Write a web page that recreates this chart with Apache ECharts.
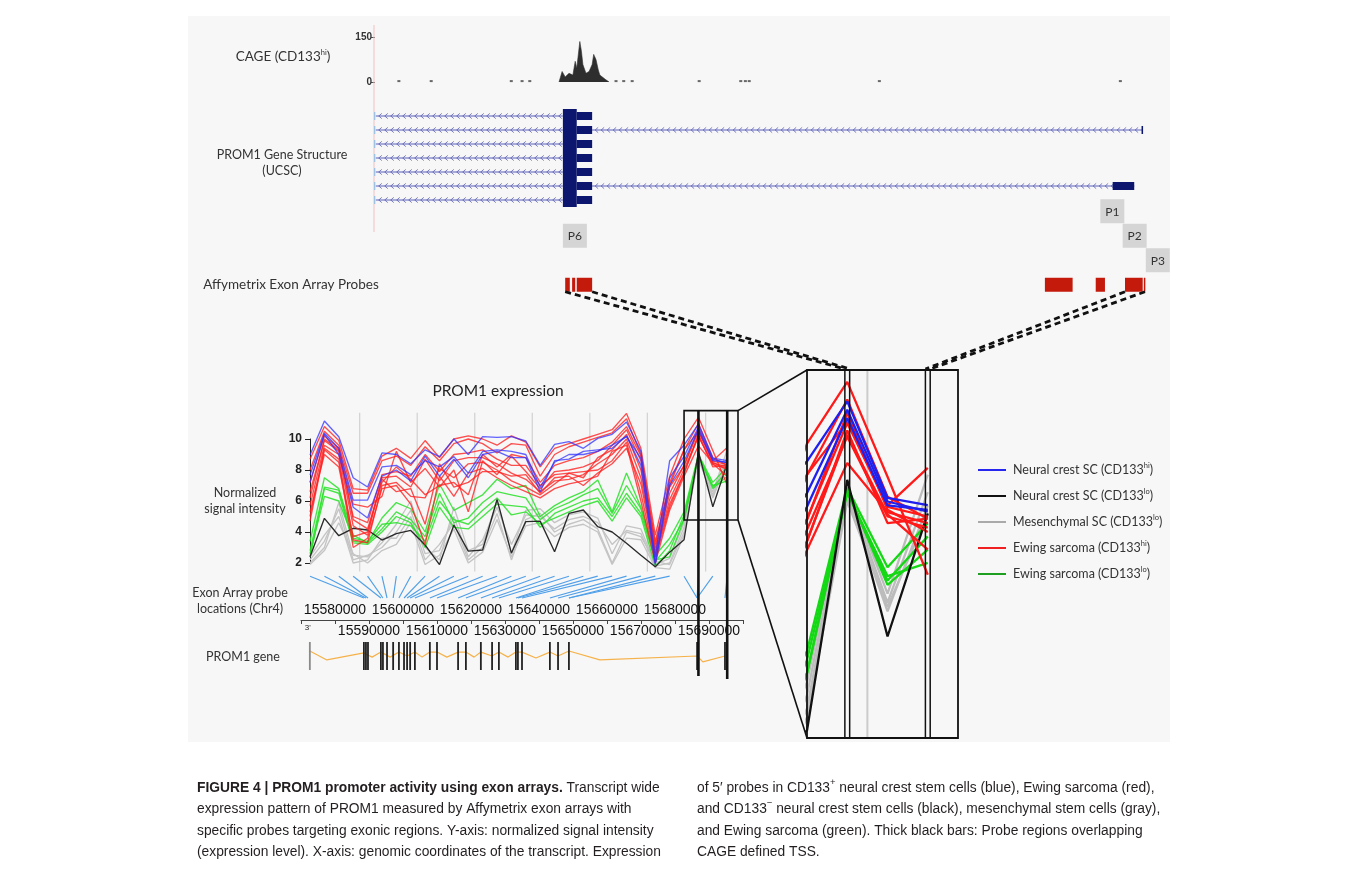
<!DOCTYPE html>
<html>
<head>
<meta charset="utf-8">
<title>PROM1 promoter activity using exon arrays</title>
<script src="https://cdn.jsdelivr.net/npm/echarts@6/dist/echarts.min.js"></script>
<style>
html,body{margin:0;padding:0;background:#ffffff;}
#chart{width:1355px;height:883px;}
</style>
</head>
<body>
<div id="chart"></div>
<script>
// ======================= DATA =======================
// Exon-array probes along PROM1 (3' -> 5')
const probeIndex = [0,1,2,3,4,5,6,7,8,9,10,11,12,13,14,15,16,17,18,19,20,21,22,23,24,25,26,27,28,29];

// Neural crest SC (CD133hi) - blue
const neuralCrestHi1 = [8.97,11.16,10.15,7.5,6.9,9.1,9.0,8.4,9.3,8.86,10.0,9.0,10.15,10.1,10.15,9.87,8.3,9.65,9.83,9.4,10.04,10.3,11.1,9.2,2.4,8.6,9.6,10.96,8.77,8.61];
const neuralCrestHi2 = [7.68,10.37,9.4,6.06,6.06,8.2,8.3,7.7,8.6,8.2,8.86,7.8,9.2,9.3,9.2,9.0,6.9,8.5,9.0,9.0,9.2,9.6,10.15,8.75,2.0,7.5,8.88,10.77,8.69,8.46];
const neuralCrestHi3 = [7.2,10.3,9.0,5.6,4.9,7.6,8.0,7.3,8.9,7.6,8.7,7.5,9.0,9.2,8.8,8.8,6.6,8.6,8.7,9.2,9.3,9.4,10.2,8.3,1.9,7.0,8.57,10.58,8.6,8.5];
// Neural crest SC (CD133lo) - black
const neuralCrestLo1 = [2.4,4.88,3.76,4.24,4.13,3.48,3.9,4.1,3.16,1.9,4.45,2.77,2.84,6.1,2.64,4.67,4.7,2.73,5.2,5.42,4.34,4.0,3.27,2.5,1.76,2.7,3.5,9.18,5.63,8.42];
// Mesenchymal SC (CD133lo) - gray
const mesenchymalLo1 = [2.0,3.0,5.9,2.5,2.4,3.3,4.5,6.0,3.0,2.2,5.6,2.8,3.2,6.0,2.6,5.4,5.5,4.6,5.1,5.3,4.9,2.6,4.4,4.2,1.9,2.3,4.6,9.0,6.6,9.3];
const mesenchymalLo2 = [2.2,3.4,5.5,2.2,2.5,3.0,4.0,5.4,2.6,2.8,5.0,2.4,3.5,5.6,3.2,5.1,5.0,4.2,4.8,5.0,4.6,3.2,4.1,3.9,1.8,2.0,4.3,8.9,6.4,8.9];
const mesenchymalLo3 = [2.4,3.8,5.0,2.0,2.2,3.6,3.6,5.0,2.2,3.2,4.6,2.2,3.0,5.2,2.2,4.8,5.2,4.0,4.5,4.8,4.2,2.0,4.0,3.7,2.1,1.9,4.0,8.8,6.2,8.6];
const mesenchymalLo4 = [1.9,2.8,4.6,2.6,2.0,2.8,3.2,4.6,1.9,2.5,4.2,2.0,2.7,4.8,2.4,4.4,4.6,3.7,4.3,4.5,4.0,1.9,3.6,3.5,1.7,1.6,3.8,8.7,6.3,8.4];
// Ewing sarcoma (CD133hi) - red
const ewingHi1 = [8.7,10.8,9.9,6.8,6.7,8.9,9.4,8.75,9.9,8.8,10.0,10.2,10.0,9.6,10.2,9.8,8.2,9.4,9.7,10.0,10.3,10.6,11.65,9.4,3.8,7.6,10.0,11.4,9.25,7.03];
const ewingHi2 = [8.0,10.5,9.6,6.5,6.5,8.6,8.9,8.3,9.5,8.6,9.7,10.0,9.7,9.1,9.7,9.6,7.6,9.0,9.5,9.8,10.1,10.4,11.3,9.0,3.2,7.2,9.3,10.5,8.6,9.45];
const ewingHi3 = [6.6,9.9,9.2,5.0,4.6,7.7,7.9,7.6,9.0,7.9,9.0,9.1,9.3,8.7,8.3,8.3,7.0,7.7,7.8,7.5,8.8,9.3,10.3,8.0,2.8,6.5,8.3,10.47,8.57,8.35];
const ewingHi4 = [5.7,9.6,9.0,4.4,3.8,7.5,7.6,6.9,8.7,7.3,8.6,8.8,8.8,8.4,7.8,7.4,6.6,7.3,7.4,7.7,8.4,9.0,10.0,7.5,2.6,6.1,8.05,10.16,8.35,8.1];
const ewingHi5 = [5.0,9.4,8.7,3.5,3.3,7.0,7.2,6.3,6.2,8.1,7.5,8.4,8.5,8.0,7.3,6.9,6.4,7.1,7.8,7.9,8.0,8.6,9.8,6.5,2.3,5.6,7.78,10.3,8.2,8.3];
const ewingHi6 = [4.7,9.3,8.5,3.0,3.6,6.8,7.0,5.8,3.2,7.6,6.3,7.8,8.1,7.5,7.0,6.6,6.2,6.8,7.1,7.3,7.6,9.2,9.6,6.0,2.0,5.4,7.59,9.56,8.45,8.2];
const ewingHi7 = [6.2,10.0,9.3,5.8,5.6,6.3,9.2,7.2,8.1,6.9,8.0,5.3,8.6,7.7,8.9,7.9,6.8,7.9,8.0,8.2,8.6,9.6,10.6,8.6,3.0,6.9,8.27,10.7,8.5,8.0];
const ewingHi8 = [7.2,10.2,9.4,4.8,4.2,7.2,8.2,7.4,6.4,7.0,7.2,6.4,9.0,8.2,9.0,8.8,7.2,8.3,8.6,8.8,9.2,9.8,10.8,8.9,3.4,7.0,9.29,11.0,8.8,8.3];
const ewingHi9 = [5.3,9.0,8.2,3.7,4.0,7.4,6.6,6.8,4.5,8.4,6.9,7.2,7.9,7.9,7.6,7.7,6.5,7.5,7.6,7.0,7.8,8.4,9.4,7.1,2.5,5.8,7.8,10.2,8.4,7.6];
// Ewing sarcoma (CD133lo) - green
const ewingLo1 = [3.4,7.5,6.8,3.8,3.3,4.9,5.9,5.5,4.0,7.1,5.4,5.9,6.4,7.4,6.8,7.0,5.0,5.7,6.2,6.6,7.35,5.3,7.8,5.6,2.5,3.6,5.3,9.0,7.2,8.2];
const ewingLo2 = [2.8,6.9,6.7,3.4,3.3,4.2,5.3,4.8,3.7,6.5,4.6,4.9,5.9,6.6,6.4,6.2,4.8,5.5,5.9,6.4,6.8,5.2,7.0,5.5,2.1,3.2,4.8,8.95,6.8,7.6];
const ewingLo3 = [2.4,6.8,6.5,3.3,3.2,4.0,5.0,4.6,3.0,5.6,4.3,4.2,5.0,5.8,5.7,5.6,4.3,5.2,5.6,6.0,6.2,5.0,6.5,5.2,2.2,2.4,4.8,8.9,7.0,7.3];
const ewingLo4 = [2.6,6.3,6.0,3.6,3.4,4.5,4.6,4.4,3.4,6.0,4.8,4.5,5.4,6.2,5.1,5.3,4.5,4.9,5.3,5.7,6.0,4.7,6.2,5.0,1.8,2.8,5.1,8.9,6.9,7.9];

// legend labels
const legendNames = ['Neural crest SC (CD133hi)','Neural crest SC (CD133lo)','Mesenchymal SC (CD133lo)','Ewing sarcoma (CD133hi)','Ewing sarcoma (CD133lo)'];
const legendBase  = ['Neural crest SC (CD133','Neural crest SC (CD133','Mesenchymal SC (CD133','Ewing sarcoma (CD133','Ewing sarcoma (CD133'];
const legendSup   = ['hi','lo','lo','hi','lo'];

// y ticks of expression plot
const exprTicks = [2,4,6,8,10];
// probes whose regions overlap the CAGE-defined TSS (thick bars)
const tssProbes = [27, 29];
// zoomed window (probe range / signal range)
const zoomProbeRange = [26, 29.75];
const zoomSignalRange = [4.77, 11.83];
const panelSignalRange = [3.33, 11.67];
// light vertical guide lines (probe units)
const guideProbePos = [3.45, 7.45, 11.45, 15.45, 19.45, 23.45, 27.5];

// genomic coordinates (chr4) of PROM1 exons
const exonGenomic = [15572600,15588500,15589100,15589700,15593500,15594100,15595300,15597100,15598800,15600300,15601200,15602100,15603500,15607900,15610000,15616200,15618500,15622900,15626200,15628200,15633200,15633800,15635000,15643200,15645600,15648800,15686500,15694700];
// genomic location of each probe
const probeGenomic = [15588500,15589100,15589700,15593500,15594100,15595300,15597100,15598800,15600300,15601200,15602100,15603500,15607900,15610000,15616200,15618500,15622900,15626200,15628200,15633200,15633800,15635000,15643200,15645600,15648800,15648800,15686500,15686500,15686500,15694700];
// intron connector (genomic, relative height)
const geneLineGenomic = [15572600,15577600,15588500,15590900,15593500,15596200,15598800,15601200,15603500,15605600,15607900,15610000,15612900,15616200,15618500,15620900,15622900,15626200,15628200,15630900,15633200,15635000,15639100,15643200,15645600,15648800,15657900,15686500,15688200,15694700];
const geneLineLevel   = [0.68,0.36,0.61,0.46,0.64,0.46,0.64,0.5,0.64,0.46,0.64,0.64,0.46,0.64,0.64,0.46,0.64,0.5,0.64,0.46,0.64,0.64,0.43,0.64,0.5,0.68,0.36,0.5,0.29,0.5];

// UCSC browser window (kb from window start)
const cagePos    = [2.39,2.43,2.47,2.52,2.57,2.60,2.62,2.66,2.68,2.70,2.74,2.78,2.82,2.84,2.87,2.90,2.92,2.99,3.04];
const cageSignal = [0,35,17,29,23,69,46,135,104,58,29,35,58,92,75,40,23,9,0];
const cageDotPos = [0.31,0.73,1.77,1.91,2.01,3.13,3.23,3.34,4.21,4.75,4.81,4.86,6.55,9.68];
const cageDotSignal = [3,3,3,3,3,3,3,3,3,3,3,3,3,3];
const cageTicks = [0,150];

const txRows       = [0,1,2,3,4,5,6];
const txStart      = 0.01;
const txEnd        = [2.82,9.97,2.82,2.82,2.82,9.86,2.82];
const txCdsExon    = [2.44,2.62];
const txUtrExon    = [2.62,2.82];
const txDistalExon = [null,[9.955,9.975],null,null,null,[9.58,9.86],null];

const probeBlockStart = [2.47,2.56,2.62,8.70,9.36,9.74,9.985];
const probeBlockEnd   = [2.53,2.60,2.82,9.06,9.48,9.97,10.0];
const promoterNames = ['P6','P1','P2','P3'];
const promoterPos   = [2.44,9.42,9.71,10.01];
const promoterRow   = [1,0,1,2];

// ======================= CHART =======================
const FIG = 'Lato, "Open Sans", "DejaVu Sans", sans-serif';
const NUM = '"Liberation Sans", Arial, sans-serif';
const CAP = '"Liberation Sans", Arial, sans-serif';

const chart = echarts.init(document.getElementById('chart'), null, {width:1355, height:883});

const groups = [
  {name: legendNames[2], lines:[mesenchymalLo1,mesenchymalLo2,mesenchymalLo3,mesenchymalLo4], color:'#c4c4c4', op:1, panel:'#bcbcbc'},
  {name: legendNames[4], lines:[ewingLo1,ewingLo2,ewingLo3,ewingLo4], color:'#28e028', op:0.85, panel:'#14d814'},
  {name: legendNames[1], lines:[neuralCrestLo1], color:'#2a2a2a', op:1, panel:'#111111'},
  {name: legendNames[3], lines:[ewingHi1,ewingHi2,ewingHi3,ewingHi4,ewingHi5,ewingHi6,ewingHi7,ewingHi8,ewingHi9], color:'#ff2222', op:0.8, panel:'#ff1a1a'},
  {name: legendNames[0], lines:[neuralCrestHi1,neuralCrestHi2,neuralCrestHi3], color:'#3030ff', op:0.75, panel:'#2020ee'}
];
const legendColors = ['#2626ee','#111111','#aaaaaa','#f02020','#1f9f1f'];

const series = [];
groups.forEach((g, gi) => {
  g.lines.forEach(arr => {
    const pts = probeIndex.map((p, i) => [p, arr[i]]);
    series.push({type:'line', name:g.name, xAxisIndex:3, yAxisIndex:3, data:pts, clip:false,
      showSymbol:false, symbol:'none', z:3+gi, lineStyle:{width:1.35, color:g.color, opacity:g.op}, itemStyle:{color:g.color}});
    series.push({type:'line', name:g.name, xAxisIndex:4, yAxisIndex:4, data:pts, clip:true,
      showSymbol:false, symbol:'none', z:3+gi, lineStyle:{width:2.3, color:g.panel, opacity:1}, itemStyle:{color:g.panel}});
  });
});

// CAGE
series.push({type:'line', xAxisIndex:0, yAxisIndex:0, data:cagePos.map((p,i)=>[p,cageSignal[i]]),
  symbol:'none', lineStyle:{width:0.6, color:'#333'}, areaStyle:{color:'#2e2e2e', opacity:1}, silent:true});
series.push({type:'scatter', xAxisIndex:0, yAxisIndex:0, data:cageDotPos.map((p,i)=>[p,cageDotSignal[i]]),
  symbol:'rect', symbolSize:[3,2], itemStyle:{color:'#444'}, silent:true});

// Transcripts (UCSC)
series.push({type:'custom', xAxisIndex:1, yAxisIndex:1, silent:true, clip:false,
  data: txRows.map(r => [txEnd[r], r]),
  renderItem: function(params, api){
    const r = api.value(1);
    const yc = api.coord([0, r])[1];
    const xs = api.coord([txStart, r])[0];
    const xe = api.coord([api.value(0), r])[0];
    const xc0 = api.coord([txCdsExon[0], r])[0], xc1 = api.coord([txCdsExon[1], r])[0];
    const xu1 = api.coord([txUtrExon[1], r])[0];
    const kids = [];
    const intron = '#5b5fb8';
    const addIntron = (a, b) => {
      kids.push({type:'line', shape:{x1:a, y1:yc, x2:b, y2:yc}, style:{stroke:intron, lineWidth:1}});
      for (let cx = a + 4; cx < b - 3; cx += 6) {
        kids.push({type:'polyline', shape:{points:[[cx+2,yc-2.6],[cx-1,yc],[cx+2,yc+2.6]]}, style:{stroke:intron, lineWidth:0.8, fill:null}});
      }
    };
    addIntron(xs, xc0);
    if (api.value(0) > txUtrExon[1] + 0.1) addIntron(xu1, xe);
    kids.push({type:'line', shape:{x1:xs-1, y1:yc-4, x2:xs-1, y2:yc+4}, style:{stroke:'#7fb8e6', lineWidth:1}});
    kids.push({type:'rect', shape:{x:xc0, y:yc-7, width:xc1-xc0, height:14}, style:{fill:'#0c166e'}});
    kids.push({type:'rect', shape:{x:xc1, y:yc-4, width:xu1-xc1, height:8}, style:{fill:'#0c166e'}});
    const d = txDistalExon[r];
    if (d) {
      const a = api.coord([d[0], r])[0], b = api.coord([d[1], r])[0];
      kids.push({type:'rect', shape:{x:a, y:yc-4, width:Math.max(b-a,1.5), height:8}, style:{fill:'#0c166e'}});
    }
    return {type:'group', children:kids};
  }});

// Probes (red) & promoter boxes
series.push({type:'custom', xAxisIndex:2, yAxisIndex:2, silent:true, clip:false,
  data: probeBlockStart.map((s,i)=>[s, 3, probeBlockEnd[i]]),
  encode:{x:[0,2], y:1},
  renderItem: function(params, api){
    const a = api.coord([api.value(0), 3]);
    const b = api.coord([api.value(2), 3]);
    return {type:'rect', shape:{x:a[0], y:a[1]-7, width:Math.max(b[0]-a[0],1.5), height:14}, style:{fill:'#c41a0c'}};
  }});
series.push({type:'custom', xAxisIndex:2, yAxisIndex:2, silent:true, clip:false,
  data: promoterPos.map((p,i)=>[p, promoterRow[i], i]),
  renderItem: function(params, api){
    const c = api.coord([api.value(0), api.value(1)]);
    const name = promoterNames[api.value(2)];
    return {type:'group', children:[
      {type:'rect', shape:{x:c[0], y:c[1]-12, width:24, height:24}, style:{fill:'#d5d5d5'}},
      {type:'text', x:c[0]+12, y:c[1]+0.5, style:{text:name, fontSize:12, fontFamily:FIG, fill:'#333', align:'center', verticalAlign:'middle'}}
    ]};
  }});

// Gene track exons
series.push({type:'custom', xAxisIndex:7, yAxisIndex:6, silent:true, clip:false,
  data: exonGenomic.map((g,i)=>[g, i]),
  renderItem: function(params, api){
    const top = api.coord([api.value(0), 1]);
    const bot = api.coord([api.value(0), 0]);
    const first = api.value(1) === 0;
    return {type:'rect', shape:{x:top[0]-0.9, y:top[1], width:1.8, height:bot[1]-top[1]}, style:{fill: first ? '#8a8a8a' : '#222'}};
  }});
series.push({type:'line', xAxisIndex:7, yAxisIndex:6, data: geneLineGenomic.map((g,i)=>[g, geneLineLevel[i]]),
  symbol:'none', lineStyle:{color:'#f6b24a', width:1.2}, silent:true, z:1});

const genomicEven = v => v > 15570000 && v < 15700000 && (v - 15580000) % 20000 === 0;
const genomicOdd  = v => v > 15570000 && v < 15700000 && (v - 15590000) % 20000 === 0;

const option = {
  backgroundColor: '#ffffff',
  animation: false,
  textStyle: {fontFamily: FIG},
  grid: [
    {left:375, top:37,  width:770, height:45},   // 0 CAGE
    {left:375, top:109, width:770, height:98},   // 1 transcripts
    {left:375, top:199, width:770, height:98},   // 2 promoters / probes
    {left:306, top:439, width:432, height:124},  // 3 expression
    {left:807, top:370, width:151, height:368},  // 4 zoom panel
    {left:301, top:600, width:442, height:20},   // 5 genomic axis
    {left:301, top:642, width:442, height:28}    // 6 gene track
  ],
  xAxis: [
    {gridIndex:0, type:'value', min:0, max:10, show:false},
    {gridIndex:1, type:'value', min:0, max:10, show:false},
    {gridIndex:2, type:'value', min:0, max:10, show:false},
    {gridIndex:3, type:'value', min:-0.28, max:29.75, show:false},
    {gridIndex:4, type:'value', min:zoomProbeRange[0], max:zoomProbeRange[1], show:false},
    {gridIndex:5, type:'value', min:15570000, max:15700000, interval:10000, position:'bottom',
      axisLine:{show:true, lineStyle:{color:'#444', width:1}}, axisTick:{show:true, length:4, lineStyle:{color:'#444'}},
      splitLine:{show:false},
      axisLabel:{inside:true, margin:3, fontSize:14, color:'#111', fontFamily:NUM, showMinLabel:true, showMaxLabel:true,
        formatter: v => genomicEven(v) ? String(v) : ''}},
    {gridIndex:5, type:'value', min:15570000, max:15700000, interval:10000, position:'bottom',
      axisLine:{show:false}, axisTick:{show:false}, splitLine:{show:false},
      axisLabel:{margin:4, fontSize:14, color:'#111', fontFamily:NUM, showMinLabel:true, showMaxLabel:true,
        formatter: v => genomicOdd(v) ? String(v) : ''}},
    {gridIndex:6, type:'value', min:15570000, max:15700000, show:false}
  ],
  yAxis: [
    {gridIndex:0, type:'value', min:cageTicks[0], max:cageTicks[1], interval:cageTicks[1]-cageTicks[0],
      axisLine:{show:false}, axisTick:{show:true, length:4, lineStyle:{color:'#555'}}, splitLine:{show:false},
      axisLabel:{fontSize:10, fontWeight:'bold', color:'#333', margin:3, fontFamily:NUM}},
    {gridIndex:1, type:'category', data:txRows.map(String), inverse:true, show:false},
    {gridIndex:2, type:'category', data:['0','1','2','3'], inverse:true, show:false},
    {gridIndex:3, type:'value', min:exprTicks[0], max:exprTicks[exprTicks.length-1], interval:exprTicks[1]-exprTicks[0],
      axisLine:{show:true, lineStyle:{color:'#222', width:1}}, axisTick:{show:true, length:5, lineStyle:{color:'#222'}},
      splitLine:{show:false}, axisLabel:{fontSize:12, fontWeight:'bold', color:'#222', margin:4, fontFamily:NUM}},
    {gridIndex:4, type:'value', min:panelSignalRange[0], max:panelSignalRange[1], show:false},
    {gridIndex:5, type:'value', min:0, max:1, show:false},
    {gridIndex:6, type:'value', min:0, max:1, show:false}
  ],
  legend: {
    orient:'vertical', left:973, top:457, itemGap:11.5, itemWidth:28, itemHeight:2, icon:'rect',
    selectedMode:false,
    data: legendNames.map((n,i)=>({name:n, itemStyle:{color:legendColors[i]}})),
    formatter: name => { const i = legendNames.indexOf(name); return '{g|}{t|' + legendBase[i] + '}{s|' + legendSup[i] + '}{t|)}'; },
    textStyle: {rich:{
      g:{width:2, lineHeight:16},
      t:{fontSize:12.5, fontFamily:FIG, color:'#333', lineHeight:16},
      s:{fontSize:7.5, fontFamily:FIG, color:'#333', lineHeight:16, verticalAlign:'top'}
    }}
  },
  series: series
};
chart.setOption(option);

// ---------- second pass: annotation graphics through the axes ----------
const X = (i, v) => chart.convertToPixel({xAxisIndex:i}, v);
const Y = (i, v) => chart.convertToPixel({yAxisIndex:i}, v);
const G = [];
const txt = (x, y, text, size, color) => G.push({type:'text', x:x, y:y, z:20,
  style:{text:text, fontSize:size, fontFamily:FIG, fill:color || '#333', align:'center', verticalAlign:'middle'}});

// figure panel background
G.push({type:'rect', z:-10, shape:{x:188, y:16, width:982, height:726}, style:{fill:'#f7f7f7'}});

// UCSC window boundary
const x0u = X(0, 0) - 1;
G.push({type:'line', z:1, shape:{x1:x0u, y1:25, x2:x0u, y2:232}, style:{stroke:'#f3c0c0', lineWidth:1}});

// guide lines in expression plot
guideProbePos.forEach(p => {
  const x = X(3, p);
  G.push({type:'line', z:1, shape:{x1:x, y1:Y(3,11.7), x2:x, y2:Y(3,1.45)}, style:{stroke:'#d4d4d4', lineWidth:1.3}});
});

// probe -> genomic location fan
probeIndex.forEach((p, i) => {
  G.push({type:'line', z:2, shape:{x1:X(3,p), y1:Y(3,1.15), x2:X(5,probeGenomic[i]), y2:Y(5,1.1)}, style:{stroke:'#4f9fe8', lineWidth:1.15}});
});

// zoom box
const bx0 = X(3, zoomProbeRange[0]), bx1 = X(3, zoomProbeRange[1]);
const by0 = Y(3, zoomSignalRange[1]), by1 = Y(3, zoomSignalRange[0]);
G.push({type:'rect', z:15, shape:{x:bx0, y:by0, width:bx1-bx0, height:by1-by0}, style:{fill:null, stroke:'#111', lineWidth:1.6}});

// thick TSS bars
const geneBottom = Y(6, 0);
tssProbes.forEach((p, i) => {
  const x = X(3, p);
  G.push({type:'line', z:16, shape:{x1:x, y1:by0, x2:x, y2:geneBottom + 6 + i*3}, style:{stroke:'#111', lineWidth:2.6}});
});

// zoom panel
const px0 = X(4, zoomProbeRange[0]), px1 = X(4, zoomProbeRange[1]);
const py0 = Y(4, panelSignalRange[1]), py1 = Y(4, panelSignalRange[0]);
const gx = X(4, guideProbePos[guideProbePos.length-1]);
G.push({type:'line', z:1, shape:{x1:gx, y1:py0, x2:gx, y2:py1}, style:{stroke:'#cccccc', lineWidth:2}});
G.push({type:'rect', z:15, shape:{x:px0, y:py0, width:px1-px0, height:py1-py0}, style:{fill:null, stroke:'#111', lineWidth:1.8}});
tssProbes.forEach(p => {
  const x = X(4, p);
  G.push({type:'rect', z:15, shape:{x:x-2.4, y:py0, width:4.8, height:py1-py0}, style:{fill:null, stroke:'#111', lineWidth:1.5}});
});
// connectors box -> panel
G.push({type:'line', z:15, shape:{x1:bx1, y1:by0, x2:px0, y2:py0}, style:{stroke:'#111', lineWidth:1.6}});
G.push({type:'line', z:15, shape:{x1:bx1, y1:by1, x2:px0, y2:py1}, style:{stroke:'#111', lineWidth:1.6}});

// dashed links probe blocks -> panel bars
const probeBottom = Y(2, 3) + 7;
const dash = {stroke:'#111', lineWidth:2.8, lineDash:[6,4]};
[[probeBlockStart[0], tssProbes[0]-0.06],[probeBlockEnd[2], tssProbes[0]+0.06],
 [probeBlockStart[5], tssProbes[1]-0.06],[probeBlockEnd[6], tssProbes[1]+0.06]].forEach(l => {
  G.push({type:'line', z:16, shape:{x1:X(2,l[0]), y1:probeBottom, x2:X(4,l[1]), y2:py0-1}, style:dash});
});

// track labels
G.push({type:'text', x:283, y:57, z:20, style:{text:'{t|CAGE (CD133}{s|hi}{t|)}', align:'center', verticalAlign:'middle',
  rich:{t:{fontSize:13.5, fontFamily:FIG, fill:'#333', lineHeight:16}, s:{fontSize:7.5, fontFamily:FIG, fill:'#333', lineHeight:16, verticalAlign:'top'}}}});
txt(282, 155, 'PROM1 Gene Structure', 12.5);
txt(282, 171, '(UCSC)', 12.5);
txt(291, 285, 'Affymetrix Exon Array Probes', 13.5);
txt(498, 391, 'PROM1 expression', 15.5, '#222');
txt(245, 493, 'Normalized', 12.5);
txt(245, 509, 'signal intensity', 12.5);
txt(240, 593, 'Exon Array probe', 12.5);
txt(240, 609, 'locations (Chr4)', 12.5);
txt(243, 657, 'PROM1 gene', 12.5);
G.push({type:'text', x:X(5,15572000), y:628, z:20, style:{text:"3'", fontSize:8, fontFamily:NUM, fill:'#222', align:'center', verticalAlign:'middle'}});

// caption
const capRich = {
  b:{fontSize:13.8, fontFamily:CAP, fontWeight:'bold', fill:'#231f20', lineHeight:21},
  n:{fontSize:13.8, fontFamily:CAP, fill:'#231f20', lineHeight:21},
  p:{fontSize:9.5, fontFamily:CAP, fill:'#231f20', lineHeight:21, verticalAlign:'top'}
};
const capLeft = [
  '{b|FIGURE 4 | PROM1 promoter activity using exon arrays.}{n| Transcript wide}',
  '{n|expression pattern of PROM1 measured by Affymetrix exon arrays with}',
  '{n|specific probes targeting exonic regions. Y-axis: normalized signal intensity}',
  '{n|(expression level). X-axis: genomic coordinates of the transcript. Expression}'
];
const capRight = [
  '{n|of 5\u2032 probes in CD133}{p|+}{n| neural crest stem cells (blue), Ewing sarcoma (red),}',
  '{n|and CD133}{p|\u2212}{n| neural crest stem cells (black), mesenchymal stem cells (gray),}',
  '{n|and Ewing sarcoma (green). Thick black bars: Probe regions overlapping}',
  '{n|CAGE defined TSS.}'
];
const capY = [788, 809, 831, 852];
capLeft.forEach((t, i) => G.push({type:'text', x:197, y:capY[i], z:20, style:{text:t, rich:capRich, align:'left', verticalAlign:'middle'}}));
capRight.forEach((t, i) => G.push({type:'text', x:697, y:capY[i], z:20, style:{text:t, rich:capRich, align:'left', verticalAlign:'middle'}}));

chart.setOption({graphic: G});
</script>
</body>
</html>
